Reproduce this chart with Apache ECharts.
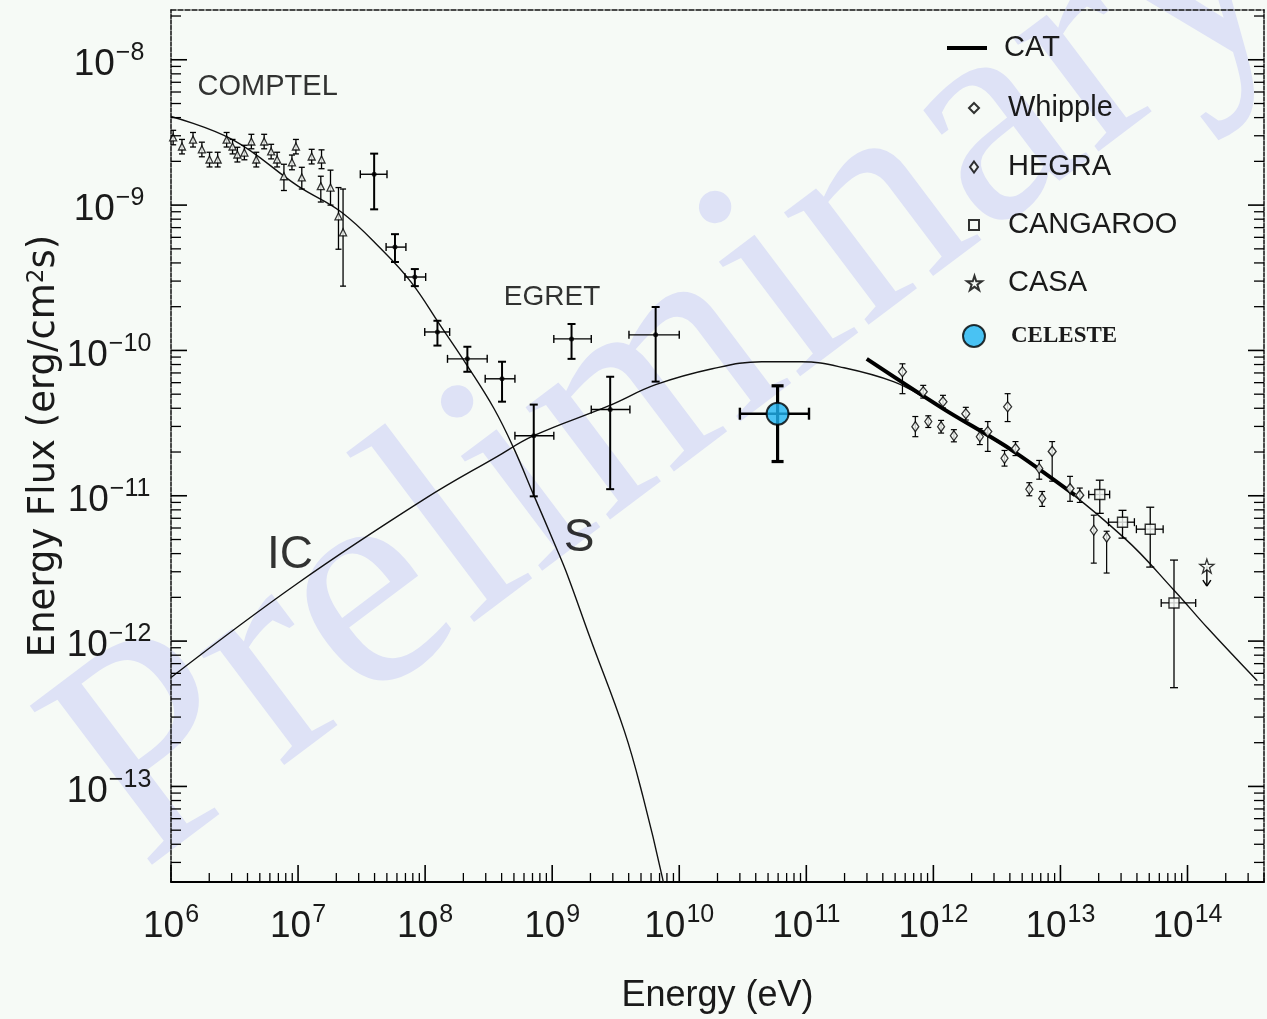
<!DOCTYPE html>
<html><head><meta charset="utf-8">
<script src="https://cdn.jsdelivr.net/npm/echarts@6/dist/echarts.min.js"></script>
<style>html,body{margin:0;padding:0;background:#f6faf6}#c{width:1267px;height:1019px}</style>
</head><body><div id="c"></div>
<script>
// ---------------- data ----------------
// axis ranges and tick labels
const X_MIN = 1e6, X_MAX = 4e14;
const Y_MIN = 2.2e-14, Y_MAX = 2.2e-8;
const xMajorTicks = [1e6,1e7,1e8,1e9,1e10,1e11,1e12,1e13,1e14];
const yMajorTicks = [1e-13,1e-12,1e-11,1e-10,1e-9,1e-8];
const minorMultipliers = [2,3,4,5,6,7,8,9];

// model curves
const icE = [1e6,1e7,1e8,3.68e8,7.16e8,2.81e9,6.52e9,1.82e10,4.46e10,9.14e10,1.98e11,4.85e11,8.79e11,2.16e12,7.19e12,3.19e13,7.83e13,1.44e14,3.54e14];
const icF = [5.62e-13,2.51e-12,9.55e-12,1.86e-11,2.59e-11,4.17e-11,5.81e-11,7.48e-11,8.36e-11,8.36e-11,7.60e-11,6.10e-11,4.66e-11,2.90e-11,1.47e-11,5.11e-12,2.24e-12,1.23e-12,5.33e-13];
const sE = [1e6,3.05e6,1e7,2.20e7,4.51e7,7.73e7,1.32e8,2.15e8,3.49e8,5.00e8,7.16e8,1.08e9,1.32e9,1.99e9,3.69e9,5.20e9,7.35e9,8.9e9];
const sF = [4.07e-9,2.82e-9,1.35e-9,8.93e-10,4.98e-10,2.96e-10,1.48e-10,7.83e-11,3.97e-11,2.11e-11,1.01e-11,4.36e-12,2.84e-12,1.05e-12,2.42e-13,8.41e-14,2.38e-14,1.0e-14];
const catE = [2.99e11,1.19e12,3.97e12,1.30e13];
const catF = [8.75e-11,3.98e-11,2.11e-11,1.01e-11];

// COMPTEL
const comptelE = [1.04e6,1.22e6,1.49e6,1.75e6,2.01e6,2.33e6,2.74e6,3.05e6,3.33e6,3.78e6,4.29e6,4.69e6,5.41e6,6.14e6,6.84e6,7.74e6,8.95e6,9.62e6,1.07e7,1.28e7,1.53e7,1.51e7,1.80e7,2.08e7,2.26e7];
const comptelF = [2.92e-9,2.53e-9,2.82e-9,2.42e-9,2.06e-9,2.06e-9,2.82e-9,2.53e-9,2.23e-9,2.30e-9,2.74e-9,2.06e-9,2.74e-9,2.34e-9,2.06e-9,1.58e-9,1.97e-9,2.53e-9,1.55e-9,2.16e-9,2.06e-9,1.35e-9,1.32e-9,8.37e-10,6.5e-10];
const comptelFlo = [2.60e-9,2.25e-9,2.51e-9,2.15e-9,1.83e-9,1.83e-9,2.51e-9,2.25e-9,1.98e-9,2.05e-9,2.44e-9,1.83e-9,2.44e-9,2.08e-9,1.83e-9,1.26e-9,1.75e-9,2.25e-9,1.29e-9,1.92e-9,1.78e-9,1.05e-9,1.00e-9,4.97e-10,2.77e-10];
const comptelFhi = [3.27e-9,2.83e-9,3.16e-9,2.71e-9,2.31e-9,2.31e-9,3.16e-9,2.83e-9,2.50e-9,2.58e-9,3.07e-9,2.31e-9,3.07e-9,2.62e-9,2.31e-9,1.91e-9,2.21e-9,2.83e-9,1.82e-9,2.42e-9,2.40e-9,1.58e-9,1.74e-9,1.32e-9,1.29e-9];

// EGRET
const egretE   = [3.97e7,5.79e7,8.30e7,1.25e8,2.15e8,4.03e8,7.16e8,1.42e9,2.86e9,6.52e9];
const egretElo = [3.09e7,4.93e7,6.93e7,9.93e7,1.50e8,2.97e8,5.09e8,1.03e9,2.03e9,4.02e9];
const egretEhi = [5.01e7,7.06e7,1.01e8,1.56e8,3.08e8,5.09e8,1.03e9,2.03e9,4.09e9,1.00e10];
const egretF   = [1.63e-9,5.14e-10,3.20e-10,1.34e-10,8.75e-11,6.38e-11,2.59e-11,1.20e-10,3.92e-11,1.28e-10];
const egretFlo = [9.35e-10,4.06e-10,2.77e-10,1.08e-10,7.13e-11,4.44e-11,9.91e-12,8.75e-11,1.11e-11,6.10e-11];
const egretFhi = [2.26e-9,6.31e-10,3.63e-10,1.60e-10,1.06e-10,8.36e-11,4.24e-11,1.52e-10,6.59e-11,1.99e-10];

// CELESTE
const celesteE = [5.94e10], celesteElo = [3.00e10], celesteEhi = [1.05e11];
const celesteF = [3.67e-11], celesteFlo = [1.72e-11], celesteFhi = [5.71e-11];

// Whipple
const whippleE   = [5.71e11,8.32e11,1.19e12,1.80e12,2.68e12,3.84e12,4.43e12,8.61e12,1.19e13,1.42e13];
const whippleF   = [7.13e-11,5.20e-11,4.44e-11,3.67e-11,2.77e-11,4.10e-11,2.11e-11,2.02e-11,1.12e-11,1.01e-11];
const whippleFlo = [5.04e-11,4.70e-11,4.02e-11,3.32e-11,2.02e-11,3.24e-11,1.89e-11,1.26e-11,9.16e-12,9.0e-12];
const whippleFhi = [8.09e-11,5.75e-11,4.91e-11,4.06e-11,3.24e-11,5.04e-11,2.36e-11,2.36e-11,1.36e-11,1.13e-11];

// HEGRA
const hegraE   = [7.21e11,9.12e11,1.15e12,1.45e12,2.32e12,3.63e12,5.69e12,6.81e12,7.18e12,1.83e13,2.31e13];
const hegraF   = [2.99e-11,3.24e-11,2.99e-11,2.59e-11,2.55e-11,1.81e-11,1.11e-11,1.54e-11,9.59e-12,5.79e-12,5.19e-12];
const hegraFlo = [2.55e-11,2.95e-11,2.70e-11,2.35e-11,2.25e-11,1.60e-11,1.00e-11,1.30e-11,8.45e-12,3.44e-12,2.94e-12];
const hegraFhi = [3.51e-11,3.55e-11,3.30e-11,2.85e-11,2.90e-11,2.05e-11,1.23e-11,1.75e-11,1.07e-11,7.35e-12,5.70e-12];

// CANGAROO
const cangE   = [2.04e13,3.08e13,5.09e13,7.83e13];
const cangElo = [1.67e13,2.39e13,3.96e13,6.21e13];
const cangEhi = [2.44e13,3.82e13,6.43e13,1.16e14];
const cangF   = [1.02e-11,6.58e-12,5.89e-12,1.83e-12];
const cangFlo = [7.57e-12,5.11e-12,3.23e-12,4.78e-13];
const cangFhi = [1.28e-11,7.94e-12,8.34e-12,3.61e-12];

// CASA (upper limit)
const casaE = [1.42e14], casaF = [3.28e-12], casaLimitTip = [2.39e-12];

// text annotations (anchored in data space)
const annotNames = ['COMPTEL','EGRET','IC','S'];
const annotE = [1.62e6, 4.16e8, 5.70e6, 1.63e9];
const annotF = [6.53e-9, 2.33e-10, 3.88e-12, 5.08e-12];

// ---------------- helpers ----------------
const BG = '#f6faf6';
const SANS = "'Liberation Sans', Arial, sans-serif";
const DJ = "'DejaVu Sans', sans-serif";
const TXT = '#1a1a1a';

function zip(){ const a = Array.from(arguments); return a[0].map((_, i) => a.map(arr => arr[i])); }
function isMajor(v){ const l = Math.log10(v); return Math.abs(l - Math.round(l)) < 1e-6; }
function expLabel(v){
  if (!isMajor(v)) return '';
  const n = Math.round(Math.log10(v));
  return '{b|10}{e|' + (n < 0 ? '\u2212' + (-n) : n) + '}';
}
function richLabel(){
  return {
    b: {fontFamily: SANS, fontSize: 37, lineHeight: 56, color: TXT, padding: [10, 0, 0, 0]},
    e: {fontFamily: SANS, fontSize: 25, verticalAlign: 'top', color: TXT, padding: [9, 0, 0, 1]}
  };
}

function errRender(opt){
  return function(params, api){
    const E = api.value(0), F = api.value(1), El = api.value(2), Eh = api.value(3), Fl = api.value(4), Fh = api.value(5);
    const c = api.coord([E, F]);
    const st = {stroke: '#000', lineWidth: opt.lw};
    const ch = [];
    if (Fl !== Fh) {
      const a = api.coord([E, Fl]), b = api.coord([E, Fh]);
      ch.push({type:'line', shape:{x1:c[0], y1:a[1], x2:c[0], y2:b[1]}, style:st});
      if (opt.cap) {
        ch.push({type:'line', shape:{x1:c[0]-opt.cap, y1:a[1], x2:c[0]+opt.cap, y2:a[1]}, style:st});
        ch.push({type:'line', shape:{x1:c[0]-opt.cap, y1:b[1], x2:c[0]+opt.cap, y2:b[1]}, style:st});
      }
    }
    if (El !== Eh) {
      const a = api.coord([El, F]), b = api.coord([Eh, F]);
      const sth = {stroke: '#000', lineWidth: opt.lwh || opt.lw};
      ch.push({type:'line', shape:{x1:a[0], y1:c[1], x2:b[0], y2:c[1]}, style:sth});
      if (opt.cap) {
        ch.push({type:'line', shape:{x1:a[0], y1:c[1]-opt.cap, x2:a[0], y2:c[1]+opt.cap}, style:sth});
        ch.push({type:'line', shape:{x1:b[0], y1:c[1]-opt.cap, x2:b[0], y2:c[1]+opt.cap}, style:sth});
      }
    }
    return {type:'group', children: ch};
  };
}
function errSeries(name, data, opt){
  return {type:'custom', name: name, data: data, renderItem: errRender(opt), encode:{x:0, y:1}, clip: true, silent: true, z: 3};
}

// tick values (axis decoration)
const xTickVals = [], yTickVals = [];
xMajorTicks.forEach(m => { xTickVals.push(m); minorMultipliers.forEach(k => { if (k*m <= X_MAX) xTickVals.push(k*m); }); });
[1e-14].concat(yMajorTicks).forEach(m => { if (m >= Y_MIN) yTickVals.push(m); minorMultipliers.forEach(k => { const v = k*m; if (v >= Y_MIN && v <= Y_MAX) yTickVals.push(v); }); });

const STAR = 'path://M50,2 L61,36 L97,36 L68,57 L79,92 L50,71 L21,92 L32,57 L3,36 L39,36 Z';
const CATICON = 'path://M0,0 L100,0 L100,10 L0,10 Z';

// ---------------- chart ----------------
const chart = echarts.init(document.getElementById('c'), null, {renderer: 'canvas'});

// legend layout: icon centre x 973, row centre y, icon size
const legendItems = [
  {name:'CAT', yc:48, w:46, h:4, left:947, icon: CATICON},
  {name:'Whipple', yc:108, w:10, h:10},
  {name:'HEGRA', yc:167, w:8, h:11},
  {name:'CANGAROO', yc:225, w:10, h:10},
  {name:'CASA', yc:283, w:15, h:15},
  {name:'CELESTE', yc:336, w:22, h:22, tx:1010, ts:{fontFamily:"'Liberation Serif', serif", fontWeight:'bold', fontSize:23}}
];

const option = {
  backgroundColor: BG,
  animation: false,
  grid: {left: 171, top: 10, width: 1104, height: 874, show: false},
  legend: legendItems.map(it => {
    const left = it.left != null ? it.left : Math.round(973 - it.w / 2);
    const pad = (it.tx || 1007) - left - it.w - 5;
    const d = {name: it.name};
    if (it.icon) { d.icon = it.icon; d.itemStyle = {color: '#000', borderWidth: 0}; }
    return {
      data: [d], left: left, top: it.yc - 15, orient: 'vertical', padding: 0, itemGap: 0,
      itemWidth: it.w, itemHeight: it.h, selectedMode: false,
      textStyle: Object.assign({fontFamily: SANS, fontSize: 29, color: TXT, lineHeight: 30, padding: [0, 0, 0, pad]}, it.ts || {})
    };
  }),
  graphic: [{
    type: 'text', x: 95, y: 807, rotation: 37 * Math.PI / 180, z: -1, silent: true,
    style: {text: 'Preliminary', x: 0, y: 0, font: "306px 'Liberation Serif', serif", fill: '#dee2f6', align: 'left', verticalAlign: 'middle'}
  }],
  xAxis: [{
    type: 'log', logBase: 10, min: X_MIN, max: X_MAX, position: 'bottom',
    name: 'Energy (eV)', nameLocation: 'middle', nameGap: 96, nameMoveOverlap: false,
    nameTextStyle: {fontFamily: SANS, fontSize: 36, color: TXT},
    axisLine: {show: true, lineStyle: {color: '#000', width: 2}},
    axisTick: {show: false}, splitLine: {show: false}, minorTick: {show: false},
    axisLabel: {show: true, margin: 12, formatter: expLabel, rich: richLabel(), color: TXT}
  }, {
    type: 'log', logBase: 10, min: X_MIN, max: X_MAX, position: 'top',
    axisLine: {show: true, lineStyle: {color: '#111', width: 1.5, type: [5, 2]}},
    axisTick: {show: false}, axisLabel: {show: false}, splitLine: {show: false}
  }],
  yAxis: [{
    type: 'log', logBase: 10, min: Y_MIN, max: Y_MAX, position: 'left',
    name: 'Energy Flux (erg/cm{s|2}s)', nameLocation: 'middle', nameGap: 108, nameRotate: 90, nameMoveOverlap: false,
    nameTextStyle: {fontFamily: DJ, fontSize: 37, color: TXT, rich: {s: {fontFamily: DJ, fontSize: 23, verticalAlign: 'top', color: TXT}}},
    axisLine: {show: true, lineStyle: {color: '#111', width: 1.5, type: [4, 1.5]}},
    axisTick: {show: false}, splitLine: {show: false},
    axisLabel: {show: true, margin: 62, align: 'center', formatter: expLabel, rich: richLabel(), color: TXT}
  }, {
    type: 'log', logBase: 10, min: Y_MIN, max: Y_MAX, position: 'right',
    axisLine: {show: true, lineStyle: {color: '#111', width: 1.5, type: [4, 1.5]}},
    axisTick: {show: false}, axisLabel: {show: false}, splitLine: {show: false}
  }],
  series: [
    // axis ticks drawn through the axes' scales
    {type: 'custom', name: 'xticks', silent: true, clip: false, z: 5, encode: {x: 0, y: 1},
     data: xTickVals.map(v => [v, Y_MIN]),
     renderItem: function(params, api){
       const v = api.value(0); const p = api.coord([v, api.value(1)]);
       const cs = params.coordSys; const bottom = cs.y + cs.height; const mj = isMajor(v);
       return {type:'line', shape:{x1:p[0], y1:bottom, x2:p[0], y2:bottom - (mj ? 17 : 9)}, style:{stroke:'#000', lineWidth: mj ? 1.6 : 1.3}};
     }},
    {type: 'custom', name: 'yticks', silent: true, clip: false, z: 5, encode: {x: 0, y: 1},
     data: yTickVals.map(v => [X_MIN, v]),
     renderItem: function(params, api){
       const v = api.value(1); const p = api.coord([api.value(0), v]);
       const cs = params.coordSys; const mj = isMajor(v); const len = mj ? 16 : 10;
       const st = {stroke:'#000', lineWidth: mj ? 1.6 : 1.3};
       return {type:'group', children:[
         {type:'line', shape:{x1:cs.x, y1:p[1], x2:cs.x + len, y2:p[1]}, style:st},
         {type:'line', shape:{x1:cs.x + cs.width, y1:p[1], x2:cs.x + cs.width - len, y2:p[1]}, style:st}
       ]};
     }},
    // model curves
    {type: 'line', name: 'S', data: zip(sE, sF), showSymbol: false, symbol: 'none', smooth: 0.4, clip: true,
     lineStyle: {color: '#111', width: 1.4}, z: 2},
    {type: 'line', name: 'IC', data: zip(icE, icF), showSymbol: false, symbol: 'none', smooth: 0.4, clip: true,
     lineStyle: {color: '#111', width: 1.4}, z: 2},
    {type: 'line', name: 'CAT', data: zip(catE, catF), showSymbol: false, symbol: 'none', smooth: 0.3,
     lineStyle: {color: '#000', width: 4}, itemStyle: {color: '#000'}, z: 3},
    // COMPTEL
    errSeries('comptel-err', zip(comptelE, comptelF, comptelE, comptelE, comptelFlo, comptelFhi), {lw: 1.3, cap: 3}),
    {type: 'scatter', name: 'COMPTEL', data: zip(comptelE, comptelF), symbol: 'triangle', symbolSize: 7,
     itemStyle: {color: BG, borderColor: '#000', borderWidth: 1.3}, z: 4},
    // EGRET
    errSeries('egret-err', zip(egretE, egretF, egretElo, egretEhi, egretFlo, egretFhi), {lw: 2, lwh: 1.4, cap: 4}),
    {type: 'scatter', name: 'EGRET', data: zip(egretE, egretF), symbol: 'circle', symbolSize: 5,
     itemStyle: {color: '#000'}, z: 4},
    // TeV
    errSeries('whipple-err', zip(whippleE, whippleF, whippleE, whippleE, whippleFlo, whippleFhi), {lw: 1.2, cap: 3}),
    {type: 'scatter', name: 'Whipple', data: zip(whippleE, whippleF), symbol: 'diamond', symbolSize: [8, 10],
     itemStyle: {color: BG, borderColor: '#000', borderWidth: 1.3}, z: 4},
    errSeries('hegra-err', zip(hegraE, hegraF, hegraE, hegraE, hegraFlo, hegraFhi), {lw: 1.2, cap: 3}),
    {type: 'scatter', name: 'HEGRA', data: zip(hegraE, hegraF), symbol: 'diamond', symbolSize: [7, 10],
     itemStyle: {color: BG, borderColor: '#000', borderWidth: 1.3}, z: 4},
    errSeries('cang-err', zip(cangE, cangF, cangElo, cangEhi, cangFlo, cangFhi), {lw: 1.3, cap: 4}),
    {type: 'scatter', name: 'CANGAROO', data: zip(cangE, cangF), symbol: 'rect', symbolSize: 10,
     itemStyle: {color: BG, borderColor: '#000', borderWidth: 1.4}, z: 4},
    {type: 'custom', name: 'casa-ul', silent: true, z: 3, encode: {x: 0, y: 1},
     data: zip(casaE, casaF, casaLimitTip),
     renderItem: function(params, api){
       const c = api.coord([api.value(0), api.value(1)]); const t = api.coord([api.value(0), api.value(2)]);
       const st = {stroke:'#000', lineWidth:1.4};
       return {type:'group', children:[
         {type:'line', shape:{x1:c[0], y1:c[1], x2:t[0], y2:t[1]}, style:st},
         {type:'line', shape:{x1:t[0]-4, y1:t[1]-6, x2:t[0], y2:t[1]}, style:st},
         {type:'line', shape:{x1:t[0]+4, y1:t[1]-6, x2:t[0], y2:t[1]}, style:st}
       ]};
     }},
    {type: 'scatter', name: 'CASA', data: zip(casaE, casaF), symbol: STAR, symbolSize: 14,
     itemStyle: {color: BG, borderColor: '#000', borderWidth: 1.3}, z: 4},
    // CELESTE
    errSeries('celeste-err', zip(celesteE, celesteF, celesteElo, celesteEhi, celesteFlo, celesteFhi), {lw: 3.2, lwh: 2.4, cap: 6}),
    {type: 'scatter', name: 'CELESTE', data: zip(celesteE, celesteF), symbol: 'circle', symbolSize: 22,
     itemStyle: {color: '#1eb4f2', borderColor: '#000', borderWidth: 2}, z: 5},
    // annotations
    {type: 'scatter', name: 'annotations', silent: true, symbolSize: 0, z: 4,
     data: annotNames.map((n, i) => ({name: n, value: [annotE[i], annotF[i]],
       label: {show: true, formatter: n, position: [0, 0], align: n === 'S' ? 'center' : 'left', verticalAlign: 'middle',
               fontFamily: SANS, color: '#000', textBorderWidth: 0, fontSize: ({COMPTEL: 29, EGRET: 28, IC: 46, S: 46})[n]}}))}
  ]
};
chart.setOption(option);
</script>
</body></html>
